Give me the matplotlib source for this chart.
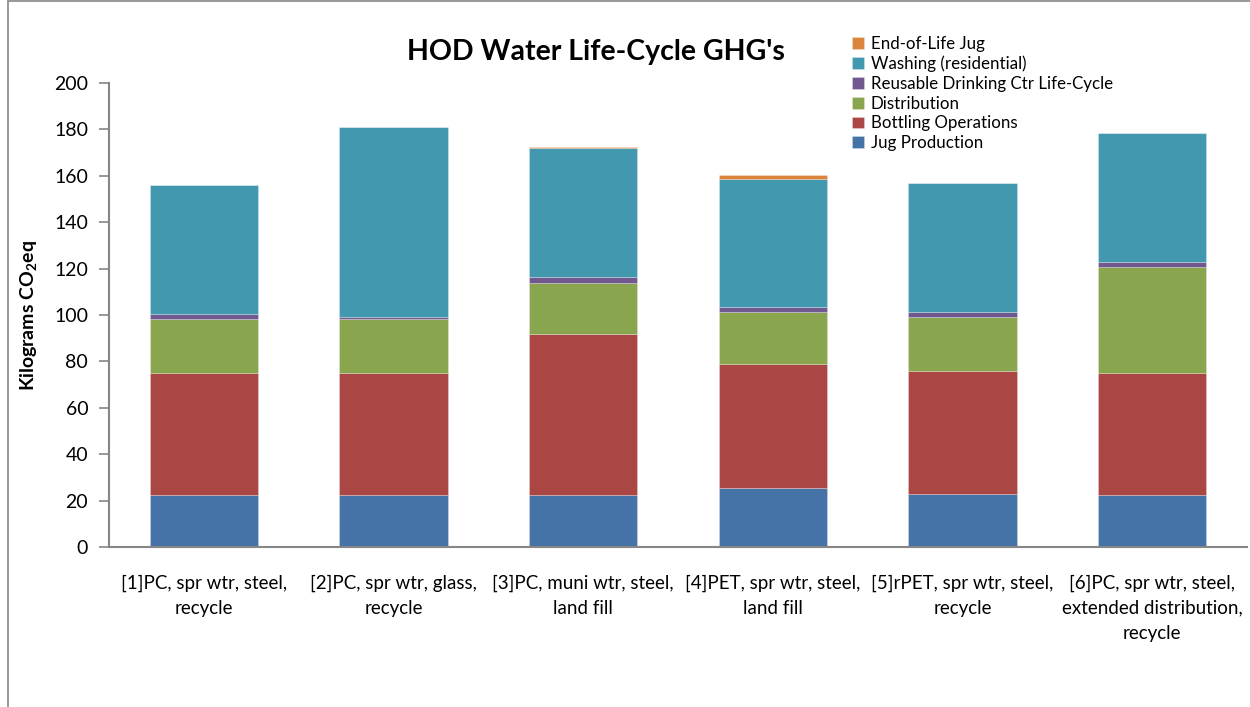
import matplotlib.pyplot as plt
import numpy as np
from matplotlib.patches import Rectangle

categories = ['[1]PC, spr wtr, steel,\nrecycle',
              '[2]PC, spr wtr, glass,\nrecycle',
              '[3]PC, muni wtr, steel,\nland fill',
              '[4]PET, spr wtr, steel,\nland fill',
              '[5]rPET, spr wtr, steel,\nrecycle',
              '[6]PC, spr wtr, steel,\nextended distribution,\nrecycle']

jug_production = [22.4, 22.4, 22.4, 25.3, 22.8, 22.3]
bottling_ops = [52.6, 52.6, 69.3, 53.6, 53.1, 52.8]
distribution = [23.4, 23.4, 22.2, 22.5, 23.2, 45.6]
reusable_ctr = [2.2, 0.7, 2.3, 2.2, 2.2, 2.3]
washing = [55.3, 81.9, 55.6, 55.0, 55.5, 55.3]
end_of_life = [0.0, 0.0, 0.6, 1.7, 0.0, 0.0]

series = [
    ('Jug Production', jug_production, '#4572A7'),
    ('Bottling Operations', bottling_ops, '#AA4643'),
    ('Distribution', distribution, '#89A54E'),
    ('Reusable Drinking Ctr Life-Cycle', reusable_ctr, '#71588F'),
    ('Washing (residential)', washing, '#4198AF'),
    ('End-of-Life Jug', end_of_life, '#DB843D'),
]

plt.rcParams['font.family'] = ['Lato', 'DejaVu Sans']
plt.rcParams['mathtext.fontset'] = 'custom'
plt.rcParams['mathtext.rm'] = 'Lato'
plt.rcParams['mathtext.bf'] = 'Lato:bold'

W, H = 1250, 707
fig = plt.figure(figsize=(12.5, 7.07), dpi=100)
ax = fig.add_axes([109 / W, 1 - 547 / H, (1247 - 109) / W, (547 - 83) / H])

x = np.arange(len(categories))
bottom = np.zeros(len(categories))
handles = []
for name, vals, color in series:
    b = ax.bar(x, vals, 0.57, bottom=bottom, color=color, label=name,
               edgecolor=(1, 1, 1, 0.45), linewidth=0.4)
    handles.append(b)
    bottom += np.array(vals)

ax.set_xlim(-0.5, len(categories) - 0.5)
ax.set_ylim(0, 200)
ax.set_yticks(range(0, 201, 20))
ax.set_xticks(x)
ax.set_xticklabels(categories, fontsize=13.5, linespacing=1.55)
ax.tick_params(axis='x', length=0, pad=20)
ax.tick_params(axis='y', labelsize=14, length=7, color='#868686', width=1.2, pad=8)

for s in ['top', 'right']:
    ax.spines[s].set_visible(False)
for s in ['left', 'bottom']:
    ax.spines[s].set_color('#868686')
    ax.spines[s].set_linewidth(1.5)

ax.set_ylabel(r'Kilograms CO$_\mathbf{2}$eq', fontsize=14, fontweight='bold', labelpad=10)

fig.text(596 / W, 1 - 52 / H, "HOD Water Life-Cycle GHG's", fontsize=20.5,
         fontweight='bold', ha='center', va='center')

leg = fig.legend(handles[::-1], [s[0] for s in series][::-1],
                 loc='upper left', bbox_to_anchor=(852 / W, 1 - 36 / H),
                 frameon=False, fontsize=12.2, handlelength=0.7, handleheight=0.7,
                 handletextpad=0.4, labelspacing=0.22, borderaxespad=0, borderpad=0)

fig.add_artist(Rectangle((8 / W, -0.05), 1.2, 1.05 - 1 / H, transform=fig.transFigure,
                         fill=False, edgecolor='#868686', linewidth=1.2))

fig.savefig('out.png', dpi=100)
